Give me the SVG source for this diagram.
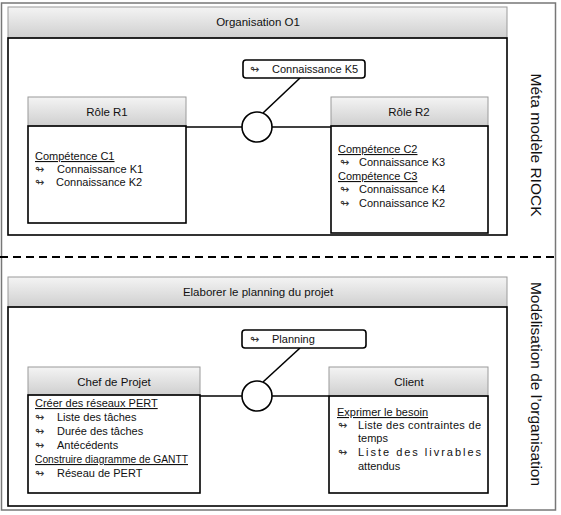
<svg xmlns="http://www.w3.org/2000/svg" width="561" height="515" viewBox="0 0 561 515">
<defs>
<linearGradient id="hdr" x1="0" y1="0" x2="0" y2="1"><stop offset="0" stop-color="#f4f4f4"/><stop offset="1" stop-color="#cfcfcf"/></linearGradient>
</defs>
<style>
.frame{fill:none;stroke:#777;stroke-width:1.5}
.hdr{fill:url(#hdr);stroke:#9a9a9a;stroke-width:1}
.body{fill:none;stroke:#000;stroke-width:1.6}
.t{font-family:"Liberation Sans",Arial,sans-serif;font-size:11px;fill:#111}
.h{font-size:11.5px;text-anchor:middle}
.u{text-decoration:underline}
.ic{font-family:"DejaVu Sans",sans-serif;font-size:11px;fill:#333}
.side{font-family:"Liberation Sans",Arial,sans-serif;font-size:15.5px;fill:#111;text-anchor:middle}
.conn{stroke:#000;stroke-width:1.6;fill:none}
.tag{fill:#fff;stroke:#000;stroke-width:1.6}
.dash{stroke:#000;stroke-width:2;stroke-dasharray:8 5}
</style>
<rect class="frame" x="1.5" y="3" width="554" height="507"/>
<line class="dash" x1="0" y1="257" x2="555" y2="257"/>

<g id="organisation">
<rect class="hdr" x="8" y="7" width="499" height="31"/>
<rect class="body" x="8" y="38" width="499" height="197"/>
<text class="t h" x="258" y="26">Organisation O1</text>
</g>
<g id="planning-projet">
<rect class="hdr" x="8" y="277" width="499" height="30"/>
<rect class="body" x="8" y="307" width="499" height="199"/>
<text class="t h" x="258" y="296">Elaborer le planning du projet</text>
</g>

<g id="connectors">
<line class="conn" x1="186" y1="127" x2="331" y2="127"/>
<line class="conn" x1="300" y1="78" x2="263" y2="113"/>
<circle class="tag" cx="257" cy="127" r="15"/>
<line class="conn" x1="200" y1="396" x2="329" y2="396"/>
<line class="conn" x1="300" y1="348" x2="263" y2="382"/>
<circle class="tag" cx="257" cy="396" r="15"/>
</g>

<g id="k5">
<rect class="tag" x="243" y="60" width="122" height="18" rx="3"/>
<text class="ic" x="250" y="73">↬</text>
<text class="t" x="272" y="73">Connaissance K5</text>
</g>
<g id="planning">
<rect class="tag" x="242" y="330" width="124" height="18" rx="3"/>
<text class="ic" x="250" y="343">↬</text>
<text class="t" x="272" y="343">Planning</text>
</g>

<g id="role-r1">
<rect class="hdr" x="28" y="97" width="158" height="29"/>
<rect class="body" x="28" y="126" width="158" height="97"/>
<text class="t h" x="107" y="116">Rôle R1</text>
<text class="t u" x="35" y="160">Compétence C1</text>
<text class="ic" x="35" y="173">↬</text>
<text class="t" x="57" y="173">Connaissance K1</text>
<text class="ic" x="35" y="186">↬</text>
<text class="t" x="56" y="186">Connaissance K2</text>
</g>

<g id="role-r2">
<rect class="hdr" x="331" y="97" width="157" height="29"/>
<rect class="body" x="331" y="126" width="157" height="107"/>
<text class="t h" x="409" y="116">Rôle R2</text>
<text class="t u" x="338" y="153">Compétence C2</text>
<text class="ic" x="340" y="166">↬</text>
<text class="t" x="359" y="166">Connaissance K3</text>
<text class="t u" x="338" y="180">Compétence C3</text>
<text class="ic" x="340" y="193">↬</text>
<text class="t" x="359" y="193">Connaissance K4</text>
<text class="ic" x="340" y="207">↬</text>
<text class="t" x="359" y="207">Connaissance K2</text>
</g>

<g id="chef-de-projet">
<rect class="hdr" x="28" y="367" width="172" height="28"/>
<rect class="body" x="28" y="395" width="172" height="98"/>
<text class="t h" x="114" y="386">Chef de Projet</text>
<text class="t u" x="35" y="407">Créer des réseaux PERT</text>
<text class="ic" x="35" y="421">↬</text>
<text class="t" x="57" y="421">Liste des tâches</text>
<text class="ic" x="35" y="435">↬</text>
<text class="t" x="57" y="435">Durée des tâches</text>
<text class="ic" x="35" y="449">↬</text>
<text class="t" x="57" y="449">Antécédents</text>
<text class="t u" x="35" y="463" textLength="153" lengthAdjust="spacingAndGlyphs">Construire diagramme de GANTT</text>
<text class="ic" x="35" y="477">↬</text>
<text class="t" x="57" y="477">Réseau de PERT</text>
</g>

<g id="client">
<rect class="hdr" x="329" y="367" width="159" height="29"/>
<rect class="body" x="329" y="396" width="159" height="97"/>
<text class="t h" x="409" y="386">Client</text>
<text class="t u" x="337" y="416">Exprimer le besoin</text>
<text class="ic" x="338" y="429">↬</text>
<text class="t" x="358" y="429" textLength="123" lengthAdjust="spacing">Liste des contraintes de</text>
<text class="t" x="358" y="442">temps</text>
<text class="ic" x="338" y="456">↬</text>
<text class="t" x="358" y="456" textLength="123" lengthAdjust="spacing">Liste des livrables</text>
<text class="t" x="358" y="470">attendus</text>
</g>

<g id="labels">
<text class="side" transform="translate(531,145) rotate(90)">Méta modèle RIOCK</text>
<text class="side" transform="translate(531,384) rotate(90)">Modélisation de l’organisation</text>
</g>
</svg>
